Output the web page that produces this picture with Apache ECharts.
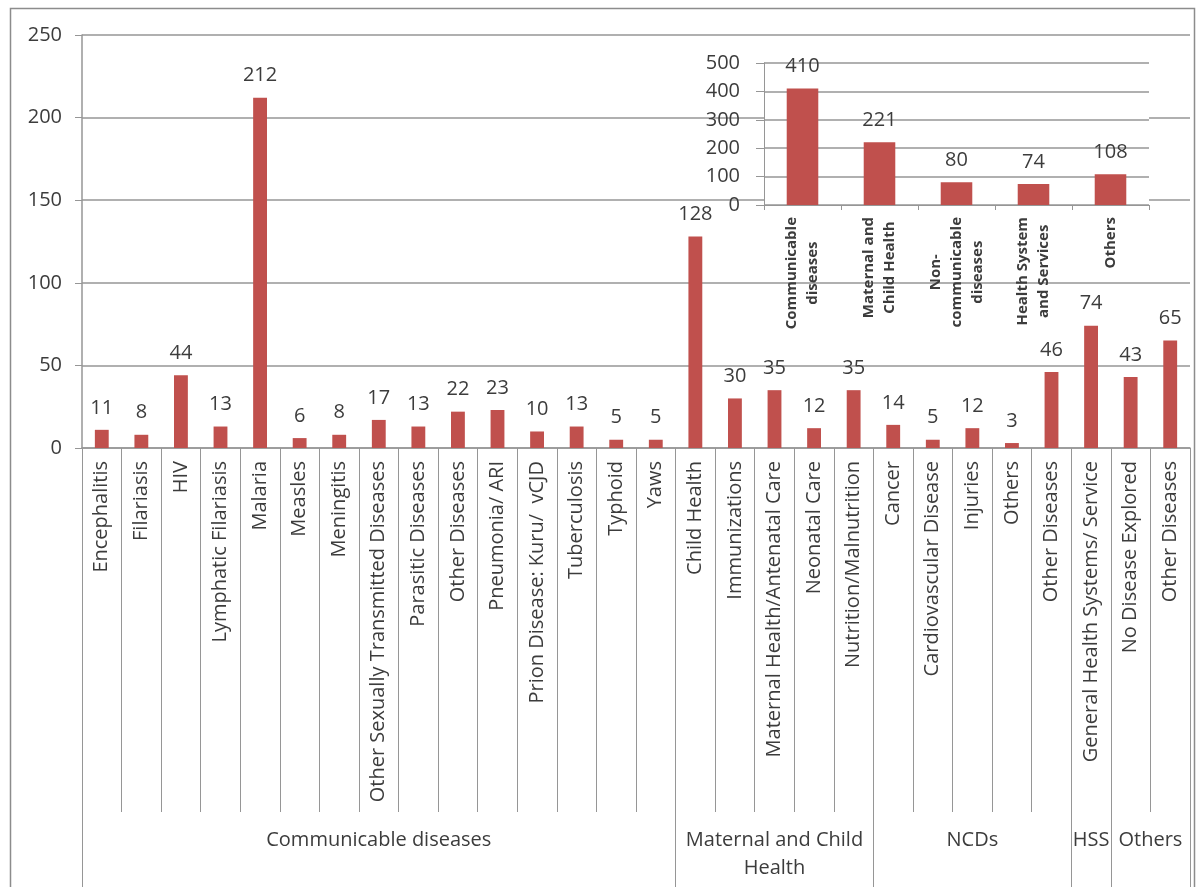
<!DOCTYPE html>
<html>
<head>
<meta charset="utf-8">
<script src="https://cdn.jsdelivr.net/npm/echarts@6/dist/echarts.min.js"></script>
<style>
  html, body { margin: 0; padding: 0; background: #fff; }
  #chart { width: 1203px; height: 887px; }
</style>
</head>
<body>
<div id="chart"></div>
<script>
// main chart: projects per disease area
const categories = [
  'Encephalitis', 'Filariasis', 'HIV', 'Lymphatic Filariasis', 'Malaria', 'Measles', 'Meningitis',
  'Other Sexually Transmitted Diseases', 'Parasitic Diseases', 'Other Diseases', 'Pneumonia/ ARI',
  'Prion Disease: Kuru/  vCJD', 'Tuberculosis', 'Typhoid', 'Yaws',
  'Child Health', 'Immunizations', 'Maternal Health/Antenatal Care', 'Neonatal Care', 'Nutrition/Malnutrition',
  'Cancer', 'Cardiovascular Disease', 'Injuries', 'Others', 'Other Diseases',
  'General Health Systems/ Service',
  'No Disease Explored', 'Other Diseases'
]
const counts = [11, 8, 44, 13, 212, 6, 8, 17, 13, 22, 23, 10, 13, 5, 5,
  128, 30, 35, 12, 35,
  14, 5, 12, 3, 46,
  74,
  43, 65]

// groups under the categories
const groupNames = ['Communicable diseases', 'Maternal and Child\nHealth', 'NCDs', 'HSS', 'Others']
const groupSizes = [15, 5, 5, 1, 2]

// y axis of the main chart
const yMax = 250
const yStep = 50

// inset: totals per group
const insetCategories = ['Communicable\ndiseases', 'Maternal and\nChild Health', 'Non-\ncommunicable\ndiseases', 'Health System\nand Services', 'Others']
const insetCounts = [410, 221, 80, 74, 108]
const insetMax = 500
const insetStep = 100

const barColor = '#c0504d'
const lineColor = '#969696'
const textColor = '#3c3c3c'
const font = '"Open Sans", "Noto Sans", sans-serif'

// group boundaries and centers (in category units)
const groupEdges = [0]
groupSizes.forEach(s => groupEdges.push(groupEdges[groupEdges.length - 1] + s))
const groupCenters = groupSizes.map((s, i) => groupEdges[i] + s / 2)
const categoryEdges = categories.map((c, i) => i).concat([categories.length])

const chart = echarts.init(document.getElementById('chart'))

const option = {
  animation: false,
  textStyle: { fontFamily: font },
  graphic: [
    {
      type: 'rect',
      shape: { x: 10.5, y: 8.5, width: 1184, height: 900 },
      style: { fill: 'none', stroke: '#8c8c8c', lineWidth: 1.5 },
      silent: true
    }
  ],
  grid: [
    { left: 82, right: 13, top: 35, bottom: 439 },
    { left: 764, width: 385, top: 63, height: 142, show: true, backgroundColor: '#fff', borderWidth: 0, z: 3 }
  ],
  xAxis: [
    {
      type: 'category',
      gridIndex: 0,
      data: categories,
      axisLine: { lineStyle: { color: lineColor, width: 1.5 } },
      axisTick: { show: false },
      axisLabel: {
        interval: 0,
        rotate: 90,
        margin: 13,
        fontSize: 20,
        color: textColor,
        fontFamily: font
      }
    },
    {
      // short separators between categories
      type: 'value',
      gridIndex: 0,
      position: 'bottom',
      min: 0,
      max: categories.length,
      axisLine: { show: false },
      splitLine: { show: false },
      axisLabel: { show: false },
      axisTick: { show: true, customValues: categoryEdges, length: 364, lineStyle: { color: lineColor } }
    },
    {
      // group separators and names
      type: 'value',
      gridIndex: 0,
      position: 'bottom',
      min: 0,
      max: categories.length,
      axisLine: { show: false },
      splitLine: { show: false },
      axisTick: { show: true, customValues: groupEdges, length: 450, lineStyle: { color: lineColor } },
      axisLabel: {
        customValues: groupCenters,
        formatter: v => groupNames[groupCenters.indexOf(v)],
        margin: 378,
        fontSize: 20,
        lineHeight: 28,
        color: textColor,
        fontFamily: font,
        align: 'center'
      }
    },
    {
      type: 'category',
      gridIndex: 1,
      data: insetCategories,
      z: 4,
      axisLine: { lineStyle: { color: lineColor } },
      axisTick: { show: true, interval: 0, length: 5, lineStyle: { color: lineColor } },
      axisLabel: {
        interval: 0,
        rotate: 90,
        margin: 12,
        color: textColor,
        formatter: v => v.split('\n').map(l => '{c|' + l + '}').join('\n'),
        rich: {
          c: { align: 'center', fontSize: 15, fontWeight: 'bold', lineHeight: 21, color: textColor, fontFamily: font }
        }
      }
    }
  ],
  yAxis: [
    {
      type: 'value',
      gridIndex: 0,
      min: 0,
      max: yMax,
      interval: yStep,
      axisLine: { show: true, lineStyle: { color: lineColor, width: 1.5 } },
      axisTick: { show: true, length: 7, lineStyle: { color: lineColor } },
      axisLabel: { fontSize: 20, color: textColor, margin: 20, fontFamily: font },
      splitLine: { lineStyle: { color: lineColor, width: 1.5 } }
    },
    {
      type: 'value',
      gridIndex: 1,
      min: 0,
      max: insetMax,
      interval: insetStep,
      z: 4,
      axisLine: { show: true, lineStyle: { color: lineColor } },
      axisTick: { show: true, length: 8, lineStyle: { color: lineColor } },
      axisLabel: { fontSize: 20, color: textColor, margin: 24, fontFamily: font },
      splitLine: { lineStyle: { color: lineColor, width: 1.5 } }
    }
  ],
  series: [
    {
      type: 'bar',
      xAxisIndex: 0,
      yAxisIndex: 0,
      data: counts,
      barWidth: '35%',
      itemStyle: { color: barColor },
      label: { show: true, position: 'top', distance: 12, fontSize: 20, color: textColor, fontFamily: font }
    },
    {
      type: 'bar',
      xAxisIndex: 3,
      yAxisIndex: 1,
      data: insetCounts,
      barWidth: '41%',
      z: 5,
      itemStyle: { color: barColor },
      label: { show: true, position: 'top', distance: 12, fontSize: 20, color: textColor, fontFamily: font }
    }
  ]
}

chart.setOption(option)
</script>
</body>
</html>
